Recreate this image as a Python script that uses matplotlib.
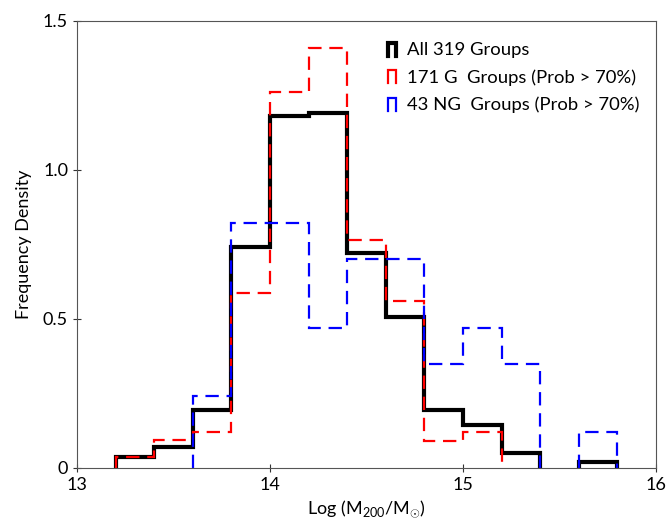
import numpy as np
import matplotlib
matplotlib.use('Agg')
import matplotlib.pyplot as plt
from matplotlib.legend_handler import HandlerBase
from matplotlib.lines import Line2D

# bin edges in Log(M200/Msun)
edges = [13.2, 13.4, 13.6, 13.8, 14.0, 14.2, 14.4, 14.6, 14.8, 15.0, 15.2, 15.4, 15.6, 15.8]

# frequency density per bin
dens_all = [0.035, 0.07, 0.195, 0.74, 1.18, 1.19, 0.72, 0.505, 0.195, 0.145, 0.05, 0.0, 0.02]
dens_g   = [0.035, 0.094, 0.12, 0.587, 1.26, 1.41, 0.765, 0.56, 0.09, 0.12, 0.0, 0.0, 0.0]
dens_ng  = [0.0, 0.0, 0.24, 0.82, 0.82, 0.47, 0.70, 0.70, 0.35, 0.47, 0.35, 0.0, 0.12]

labels = ['All 319 Groups', '171 G  Groups (Prob > 70%)', '43 NG  Groups (Prob > 70%)']


class HandlerStep(HandlerBase):
	'''draws a little open-bottom box like an old step histogram legend'''
	def create_artists(self, legend, orig, xd, yd, w, h, fontsize, trans):
		x0, x1 = -xd + 0.15*w, -xd + 0.85*w
		y0, y1 = -yd - 0.05*h, -yd + 0.95*h
		ln = Line2D([x0, x0, x1, x1], [y0, y1, y1, y0], color=orig.get_color(),
					lw=orig.get_linewidth(), solid_joinstyle='miter', transform=trans)
		return [ln]


def step_hist(ax, vals, edges, **kw):
	'''step outline, skipping empty bins (so nothing runs along y=0)'''
	vals = np.asarray(vals)
	edges = np.asarray(edges)
	i = 0
	while i < len(vals):
		if vals[i] == 0:
			i += 1
			continue
		j = i
		while j < len(vals) and vals[j] != 0:
			j += 1
		ax.stairs(vals[i:j], edges[i:j+1], baseline=0, **kw)
		i = j


plt.rcParams['font.family'] = ['Lato', 'DejaVu Sans']
plt.rcParams['mathtext.fontset'] = 'custom'
plt.rcParams['mathtext.rm'] = 'Lato'

fig = plt.figure(figsize=(6.7, 5.21), dpi=100)
ax = fig.add_axes([0.115, 0.102, 0.864, 0.858])

step_hist(ax, dens_all, edges, color='k', lw=3)
step_hist(ax, dens_g, edges, color='red', lw=1.6, ls=(0, (6, 3.5)))
step_hist(ax, dens_ng, edges, color='blue', lw=1.6, ls=(0, (6, 3.5)))

handles = [Line2D([], [], color='k', lw=3),
		   Line2D([], [], color='red', lw=1.6),
		   Line2D([], [], color='blue', lw=1.6)]
ax.legend(handles, labels, loc='upper right', frameon=False, fontsize=13.3,
		  handlelength=0.6, handletextpad=0.5, labelspacing=0.6,
		  bbox_to_anchor=(1.0, 0.99),
		  handler_map={Line2D: HandlerStep()})

ax.set_xlim(13, 16)
ax.set_ylim(0, 1.5)
ax.set_xticks([13, 14, 15, 16])
ax.set_yticks([0, 0.5, 1.0, 1.5])
ax.set_yticklabels(['0', '0.5', '1.0', '1.5'])
ax.tick_params(direction='inout', length=6, labelsize=13, color='#333333')
for s in ax.spines.values():
	s.set_color('#555555')

ax.set_xlabel(r'Log (M$_{200}$/M$_{\odot}$)', fontsize=13)
ax.set_ylabel('Frequency Density', fontsize=13, labelpad=8)

plt.savefig('out.png', dpi=100)
plt.close('all')
